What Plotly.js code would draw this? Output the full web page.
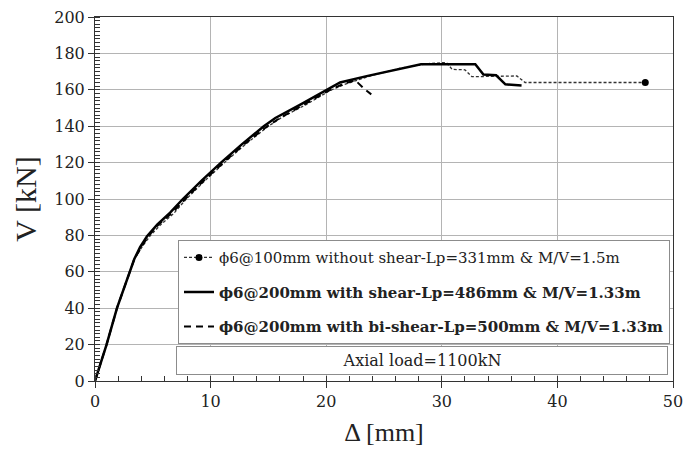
<!DOCTYPE html>
<html>
<head>
<meta charset="utf-8">
<script src="https://cdn.plot.ly/plotly-3.0.1.min.js"></script>
<style>html,body{margin:0;padding:0;background:#fff;}#chart{width:699px;height:455px;}</style>
</head>
<body>
<div id="chart"></div>
<script>
// ϕ6@100mm without shear (Lp=331mm, M/V=1.5m)
const dottedX = [0, 1.0, 1.9, 3.0, 3.4, 4.1, 4.8, 5.7, 6.8, 7.9, 9.5, 11.2, 13.0, 15.0, 16.2, 18.3, 20.3, 21.6, 24.0, 26.5, 29.0, 30.4, 30.9, 32.0, 32.6, 36.5, 37.2, 47.6];
const dottedY = [0, 20, 40, 60, 67, 74, 80, 86, 92, 100, 110, 120, 130, 140, 145, 152, 159.5, 163, 168, 172, 174.5, 175, 171.2, 171, 167.2, 167.6, 164, 164];
// ϕ6@200mm with shear (Lp=486mm, M/V=1.33m)
const solidX = [0, 1.0, 1.9, 3.0, 3.4, 3.9, 4.5, 5.4, 6.5, 7.6, 9.2, 10.9, 12.7, 14.6, 15.6, 17.8, 20.0, 21.2, 23.5, 26.0, 28.2, 32.9, 33.6, 34.7, 35.5, 36.9];
const solidY = [0, 20, 40, 60, 67, 73.5, 79.5, 86, 92.5, 100, 110, 120, 130, 140, 144.5, 152, 159.8, 164, 167.5, 171, 174, 174, 168.4, 168, 163, 162.3];
// ϕ6@200mm with bi-shear (Lp=500mm, M/V=1.33m)
const dashedX = [0, 1.0, 1.9, 3.0, 3.4, 4.0, 4.6, 5.5, 6.7, 7.8, 9.4, 11.1, 12.9, 14.9, 16.0, 18.1, 20.2, 21.4, 22.5, 23.3, 23.9];
const dashedY = [0, 20, 40, 60, 67, 73.5, 79.5, 86, 92.5, 100, 110, 120, 130, 140, 144.5, 152, 159.5, 163, 165.3, 160.5, 157.5];

const names = [
  'ϕ6@100mm without shear-Lp=331mm & M/V=1.5m',
  '<b>ϕ6@200mm with shear-Lp=486mm & M/V=1.33m</b>',
  '<b>ϕ6@200mm with bi-shear-Lp=500mm & M/V=1.33m</b>'
];
const noteText = 'Axial load=1100kN';
const xTitle = 'Δ [mm]';
const yTitle = 'V [kN]';

const dotLine = {color: '#333', width: 1.3, dash: '3px,2px'};
const traces = [
  {x: dottedX, y: dottedY, mode: 'lines', line: dotLine, legendgroup: 'a', showlegend: false, name: names[0]},
  {x: dottedX.slice(-1), y: dottedY.slice(-1), mode: 'lines+markers', line: dotLine,
   marker: {size: 7, color: '#000'}, legendgroup: 'a', name: names[0]},
  {x: solidX, y: solidY, mode: 'lines', line: {color: '#000', width: 2.5}, legendgroup: 'b', name: names[1]},
  {x: dashedX, y: dashedY, mode: 'lines', line: {color: '#000', width: 2, dash: '7px,5px'}, legendgroup: 'c', name: names[2]}
];

const tickFont = {family: 'DejaVu Serif', size: 16, color: '#222'};
const axisBase = {
  showgrid: true, gridcolor: '#b4b4b4', gridwidth: 1,
  showline: true, linecolor: '#333', linewidth: 1, mirror: true,
  ticks: 'outside', ticklen: 6, tickcolor: '#333',
  zeroline: false, tickfont: tickFont, fixedrange: true
};

const layout = {
  width: 699, height: 455,
  margin: {l: 95, r: 26, t: 17, b: 74},
  paper_bgcolor: '#fff', plot_bgcolor: '#fff',
  xaxis: Object.assign({}, axisBase, {
    range: [0, 50], dtick: 10,
    minor: {dtick: 2, ticks: 'inside', ticklen: 5, tickcolor: '#333', showgrid: false},
    title: {text: xTitle, font: {family: 'Liberation Serif', size: 26, color: '#222'}, standoff: 12}
  }),
  yaxis: Object.assign({}, axisBase, {
    range: [0, 200], dtick: 20,
    minor: {dtick: 2, ticks: 'inside', ticklen: 5, tickcolor: '#333', showgrid: false},
    title: {text: yTitle, font: {family: 'Liberation Serif', size: 30, color: '#222'}, standoff: 8}
  }),
  showlegend: true,
  legend: {
    x: 0.1436, y: 0.387, xanchor: 'left', yanchor: 'top',
    bgcolor: '#fff', bordercolor: '#8c8c8c', borderwidth: 1,
    font: {family: 'DejaVu Serif', size: 15, color: '#222'},
    tracegroupgap: 12, traceorder: 'grouped'
  },
  annotations: [{
    text: noteText, xref: 'paper', yref: 'paper', x: 0.5657, y: 0.0563,
    xanchor: 'center', yanchor: 'middle', showarrow: false,
    bgcolor: '#fff', bordercolor: '#8c8c8c', borderwidth: 1, borderpad: 0,
    width: 490, height: 27,
    font: {family: 'DejaVu Serif', size: 16, color: '#222'}
  }]
};

Plotly.newPlot('chart', traces, layout, {displayModeBar: false, staticPlot: true});
</script>
</body>
</html>
